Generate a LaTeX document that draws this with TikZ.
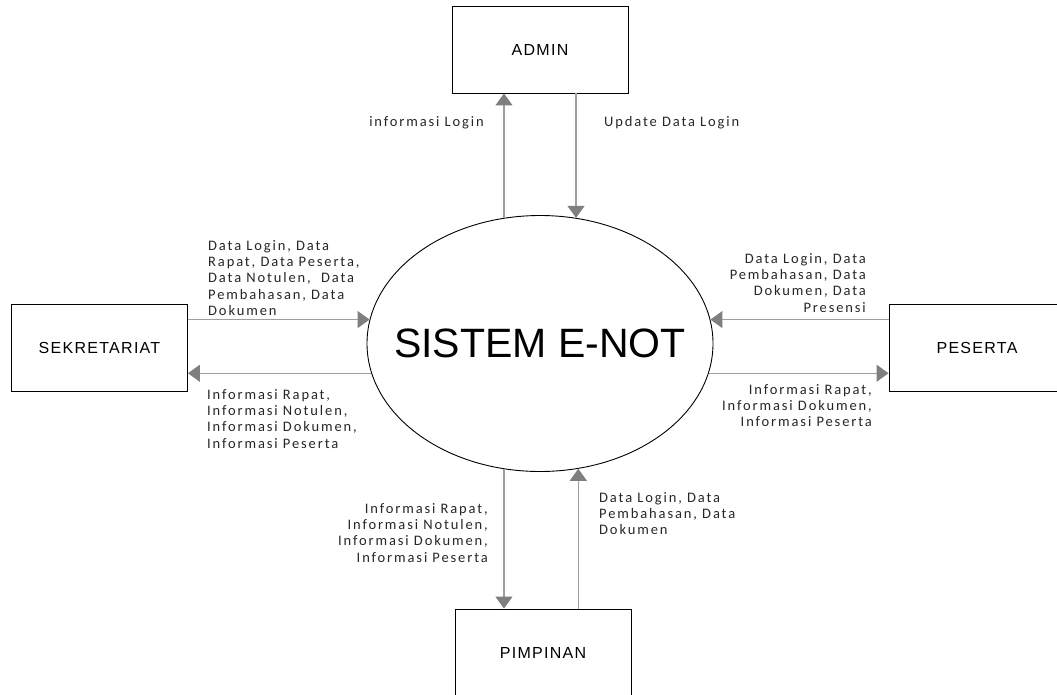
\documentclass[tikz,border=0pt]{standalone}
\usepackage{fontspec}
\setmainfont{Liberation Sans}
\newfontfamily\lblfont[LetterSpace=13]{Carlito}
\newfontfamily\boxfont[LetterSpace=8]{Liberation Sans}
\usetikzlibrary{arrows.meta, shapes.geometric}
\definecolor{flow-line}{HTML}{9E9E9E}
\definecolor{flow-head}{HTML}{7F7F7F}
\definecolor{label-text}{HTML}{262626}

\begin{document}
\begin{tikzpicture}[x=1pt, y=-1pt,
    entity/.style={draw, line width=0.9pt, minimum width=176pt, minimum height=87pt,
                   font=\boxfont\fontsize{16}{19}\selectfont},
    flow/.style={draw=flow-line, line width=1.3pt,
                 -{Triangle[width=17pt, length=12pt, color=flow-head]}},
    flowlabel/.style={font=\lblfont\fontsize{14.5}{16.3}\selectfont, text=label-text, inner sep=0pt}]
    % Context diagram, pixel grid of the page (x right, y down), 1057 x 694
    %   process ellipse centred at (540,343.5), 346 x 256
    %   ADMIN top, SEKRETARIAT left, PESERTA right, PIMPINAN bottom (176 x 87 each)
    %   flows hit the ellipse at angle anchors, boxes by |- / -|
    \useasboundingbox (0,0) rectangle (1057,694);
    \node[ellipse, draw, line width=0.9pt, minimum width=346pt, minimum height=256pt,
          inner sep=0pt] (sys) at (540,343.5) {};
    \node[font=\fontsize{41}{48}\selectfont] (sys-name) at (sys.center) {SISTEM E-NOT};
    \node[entity] (admin) at (540,49.5) {ADMIN};
    \node[entity] (sek) at (99.5,348) {SEKRETARIAT};
    \node[entity] (pes) at (977,347.5) {PESERTA};
    \node[entity] (pim) at (543,652.5) {PIMPINAN};

    % admin
    \draw[flow] (sys.106) -- (sys.106 |- admin.south);
    \draw[flow] (admin.south -| sys.74) -- (sys.74);
    \node[flowlabel, anchor=east] (lbl-admin-out) at (484,123) {informasi Login};
    \node[flowlabel, anchor=west] (lbl-admin-in) at (604,123) {Update Data Login};

    % sekretariat
    \draw[flow] (sek.east |- sys.172) -- (sys.172);
    \draw[flow] (sys.190) -- (sek.east |- sys.190);
    \node[flowlabel, anchor=north west, align=left] (lbl-sek-in) at (208,240)
      {Data Login, Data\\ Rapat, Data Peserta,\\ Data Notulen,\ \ Data\\ Pembahasan, Data\\ Dokumen};
    \node[flowlabel, anchor=north west, align=left] (lbl-sek-out) at (207,389)
      {Informasi Rapat,\\ Informasi Notulen,\\ Informasi Dokumen,\\ Informasi Peserta};

    % peserta
    \draw[flow] (pes.west |- sys.8) -- (sys.8);
    \draw[flow] (sys.350) -- (pes.west |- sys.350);
    \node[flowlabel, anchor=north east, align=right] (lbl-pes-in) at (866,253)
      {Data Login, Data\\ Pembahasan, Data\\ Dokumen, Data\\ Presensi};
    \node[flowlabel, anchor=north east, align=right] (lbl-pes-out) at (872,384)
      {Informasi Rapat,\\ Informasi Dokumen,\\ Informasi Peserta};

    % pimpinan
    \draw[flow] (sys.254) -- (sys.254 |- pim.north);
    \draw[flow] (pim.north -| sys.287) -- (sys.287);
    \node[flowlabel, anchor=north east, align=right] (lbl-pim-out) at (488,503)
      {Informasi Rapat,\\ Informasi Notulen,\\ Informasi Dokumen,\\ Informasi Peserta};
    \node[flowlabel, anchor=north west, align=left] (lbl-pim-in) at (599,492)
      {Data Login, Data\\ Pembahasan, Data\\ Dokumen};
\end{tikzpicture}
\end{document}
